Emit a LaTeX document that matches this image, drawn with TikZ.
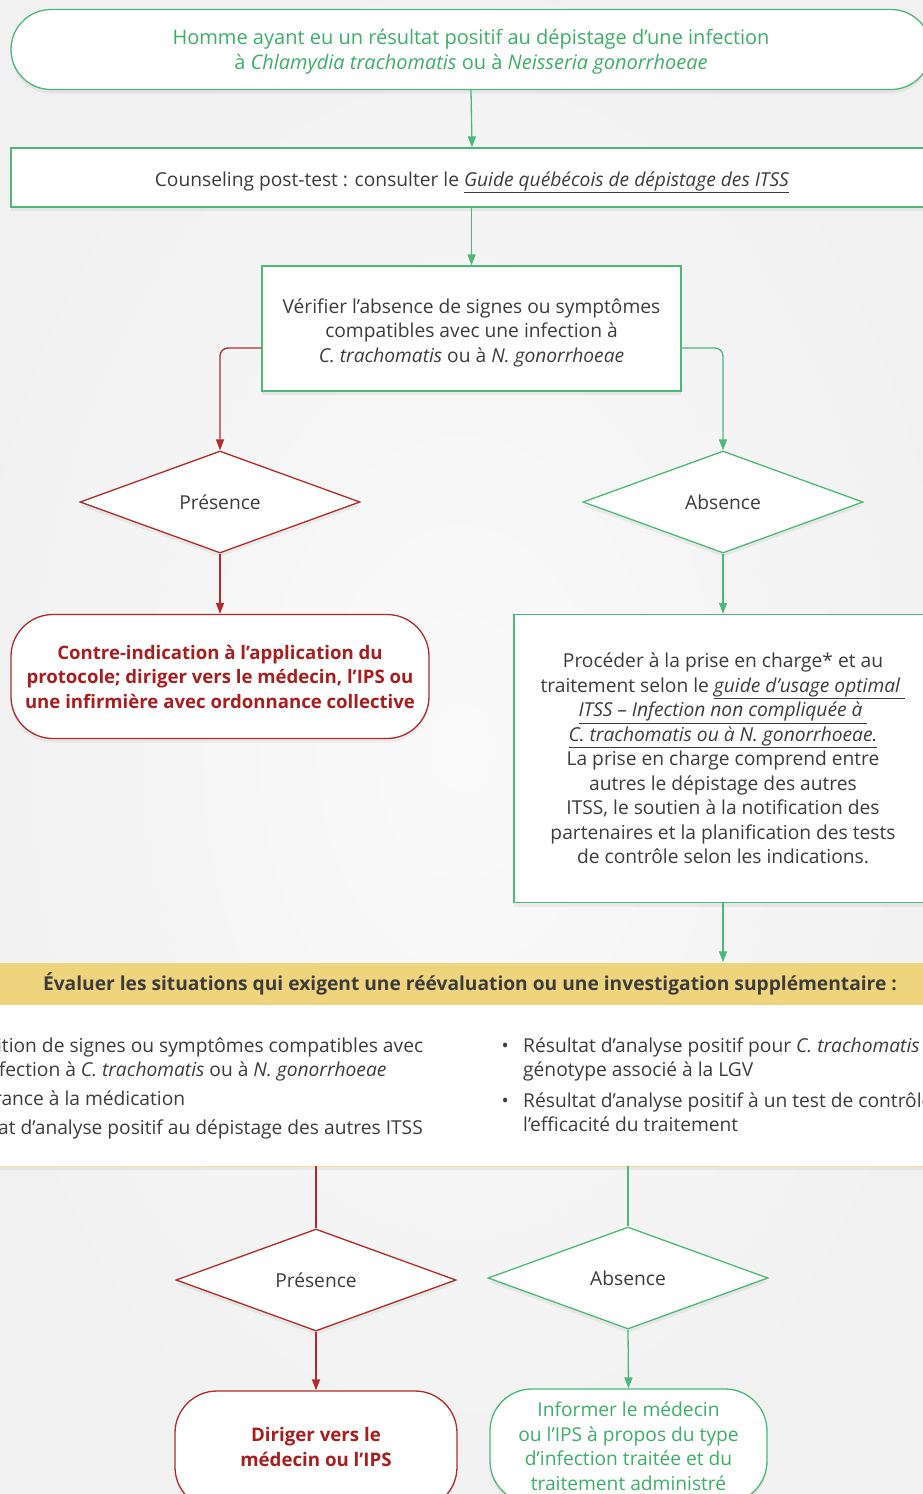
\documentclass[tikz,border=0pt]{standalone}
\usepackage{fontspec}
\setmainfont{Open Sans}
\usetikzlibrary{arrows.meta,shapes.geometric,shadows}
\definecolor{gr}{HTML}{4DB878}
\definecolor{grtxt}{HTML}{3DAE68}
\definecolor{rd}{HTML}{B22A2A}
\definecolor{rdtxt}{HTML}{A81E1E}
\definecolor{txt}{HTML}{3C3C3C}
\definecolor{yel}{HTML}{EFD47E}
\definecolor{yelline}{HTML}{F5DE95}
\definecolor{bg}{HTML}{F1F1F1}
\definecolor{bgc}{HTML}{FAFAFA}
\tikzset{
  shad/.style={drop shadow={shadow xshift=0pt,shadow yshift=-4pt,opacity=0.05,fill=black}},
  box/.style={draw=gr,line width=1.3pt,fill=white,inner sep=0pt,align=center,text=txt,shad},
  pill/.style={box,rounded corners=40pt},
  tnode/.style={inner sep=0pt,align=center,text=txt},
  dia/.style={diamond,aspect=2.745,draw,line width=1.3pt,fill=white,inner sep=0pt,
    minimum width=280pt,minimum height=102pt,text=txt,shad},
  grline/.style={draw=gr,line width=1.3pt},
  rdline/.style={draw=rd,line width=1.3pt},
  grarrow/.style={grline,-{Triangle[length=11pt,width=8pt]},color=gr},
  rdarrow/.style={rdline,-{Triangle[length=11pt,width=8pt]},color=rd},
  ltxt/.style={text=txt,inner sep=0pt},
}
\begin{document}
\begin{tikzpicture}[x=1pt,y=-1pt,font=\fontsize{19.2}{24.5}\selectfont]
\useasboundingbox (0,0) rectangle (923,1494);
\clip (0,0) rectangle (923,1494);
\fill[bg] (0,0) rectangle (923,1494);
\shade[inner color=bgc,outer color=bg] (461.5,747) ellipse (520 and 800);

% top
\node[pill,minimum width=920pt,minimum height=80pt] (start) at (471,49.5) {};
\node[tnode,text=grtxt,font=\fontsize{20}{25}\selectfont] (start-t) at (471,52)
  {Homme ayant eu un résultat positif au dépistage d’une infection\\
   à \textit{Chlamydia trachomatis} ou à \textit{Neisseria gonorrhoeae}};
\node[box,minimum width=922pt,minimum height=59pt] (couns) at (472,177.5) {};
\node[tnode] (couns-t) at (472,182.5)
  {Counseling post-test : consulter le \underline{\textit{Guide québécois de dépistage des ITSS}}};
\node[box,minimum width=419pt,minimum height=125pt] (verif) at (471.5,328.5) {};
\node[tnode] (verif-t) at (471.5,332.5)
  {Vérifier l’absence de signes ou symptômes\\
   compatibles avec une infection à\\
   \textit{C. trachomatis} ou à \textit{N. gonorrhoeae}};
\node[dia,draw=rd] (dp1) at (220,502) {Présence};
\node[dia,draw=gr] (da1) at (723,502) {Absence};
\node[box,draw=rd,rounded corners=42pt,minimum width=418pt,minimum height=124pt,text=rdtxt,font=\fontsize{18.6}{24.5}\selectfont\bfseries] (contra) at (220,676.5)
  {Contre-indication à l’application du\\
   protocole; diriger vers le médecin, l’IPS ou\\
   une infirmière avec ordonnance collective};
\node[box,minimum width=418pt,minimum height=288pt] (proc) at (723,758.5)
  {Procéder à la prise en charge* et au\\
   traitement selon le \underline{\textit{guide d’usage optimal\ }}\\
   \underline{\textit{ITSS – Infection non compliquée à\ }}\\
   \underline{\textit{C. trachomatis ou à N. gonorrhoeae.}}\\
   La prise en charge comprend entre\\
   autres le dépistage des autres\\
   ITSS, le soutien à la notification des\\
   partenaires et la planification des tests\\
   de contrôle selon les indications.};

% band
\node[fill=white,minimum width=943pt,minimum height=162pt,inner sep=0pt,shad] (list) at (461.5,1085) {};
\draw[yelline,line width=1.3pt] (list.south west) -- (list.south east);
\node[fill=yel,minimum width=960pt,minimum height=42pt,inner sep=0pt,text=txt,font=\fontsize{19.2}{24.5}\selectfont\bfseries] (band) at (470,983.5)
  {Évaluer les situations qui exigent une réévaluation ou une investigation supplémentaire :};

\node[ltxt,anchor=mid east] (l4) at (423,1132) {Résultat d’analyse positif au dépistage des autres ITSS};
\node[ltxt,anchor=mid west] (l1) at (l4.west |- 0,1050) {Apparition de signes ou symptômes compatibles avec};
\node[ltxt,anchor=mid west] (l2) at (l4.west |- 0,1074) {une infection à \textit{C. trachomatis} ou à \textit{N. gonorrhoeae}};
\node[ltxt,anchor=mid west] (l3) at (l4.west |- 0,1103) {Intolérance à la médication};
\node[ltxt,anchor=mid east] (b1) at ([xshift=-14pt]l1.mid west) {•};
\node[ltxt,anchor=mid east] (b3) at ([xshift=-14pt]l3.mid west) {•};
\node[ltxt,anchor=mid east] (b4) at ([xshift=-14pt]l4.mid west) {•};

\node[ltxt,anchor=mid west] (r1) at (523,1050) {Résultat d’analyse positif pour \textit{C. trachomatis} avec un};
\node[ltxt,anchor=mid west] (r2) at (523,1074) {génotype associé à la LGV};
\node[ltxt,anchor=mid west] (r3) at (523,1105) {Résultat d’analyse positif à un test de contrôle de};
\node[ltxt,anchor=mid west] (r4) at (523,1129) {l’efficacité du traitement};
\node[ltxt,anchor=mid east] (rb1) at ([xshift=-14pt]r1.mid west) {•};
\node[ltxt,anchor=mid east] (rb3) at ([xshift=-14pt]r3.mid west) {•};

% bottom
\node[dia,draw=rd] (dp2) at (316,1280) {Présence};
\node[dia,draw=gr] (da2) at (628,1278) {Absence};
\node[box,draw=rd,rounded corners=42pt,minimum width=282pt,minimum height=118pt] (redbox) at (316,1450) {};
\node[tnode,text=rdtxt,font=\fontsize{18.7}{24.5}\selectfont\bfseries] (redbox-t) at (316,1447)
  {Diriger vers le\\ médecin ou l’IPS};
\node[pill,rounded corners=42pt,minimum width=277pt,minimum height=114pt,text=grtxt] (grbox) at (628.5,1446)
  {Informer le médecin\\ ou l’IPS à propos du type\\ d’infection traitée et du\\ traitement administré};

% connectors
\draw[grarrow] (start.south) -- (couns.north);
\draw[grarrow] (couns.south -| verif.north) -- (verif.north);
\draw[rdarrow,rounded corners=8pt] ([yshift=-19.5pt]verif.west) -| (dp1.north);
\draw[grarrow,rounded corners=8pt] ([yshift=-19.5pt]verif.east) -| (da1.north);
\draw[rdarrow] (dp1.south) -- (contra.north);
\draw[grarrow] (da1.south) -- (proc.north);
\draw[grarrow] (proc.south) -- (proc.south |- band.north);
\draw[rdline] (list.south -| dp2.north) -- (dp2.north);
\draw[grline] (list.south -| da2.north) -- (da2.north);
\draw[rdarrow] (dp2.south) -- (redbox.north);
\draw[grarrow] (da2.south) -- (grbox.north);
\end{tikzpicture}
\end{document}
